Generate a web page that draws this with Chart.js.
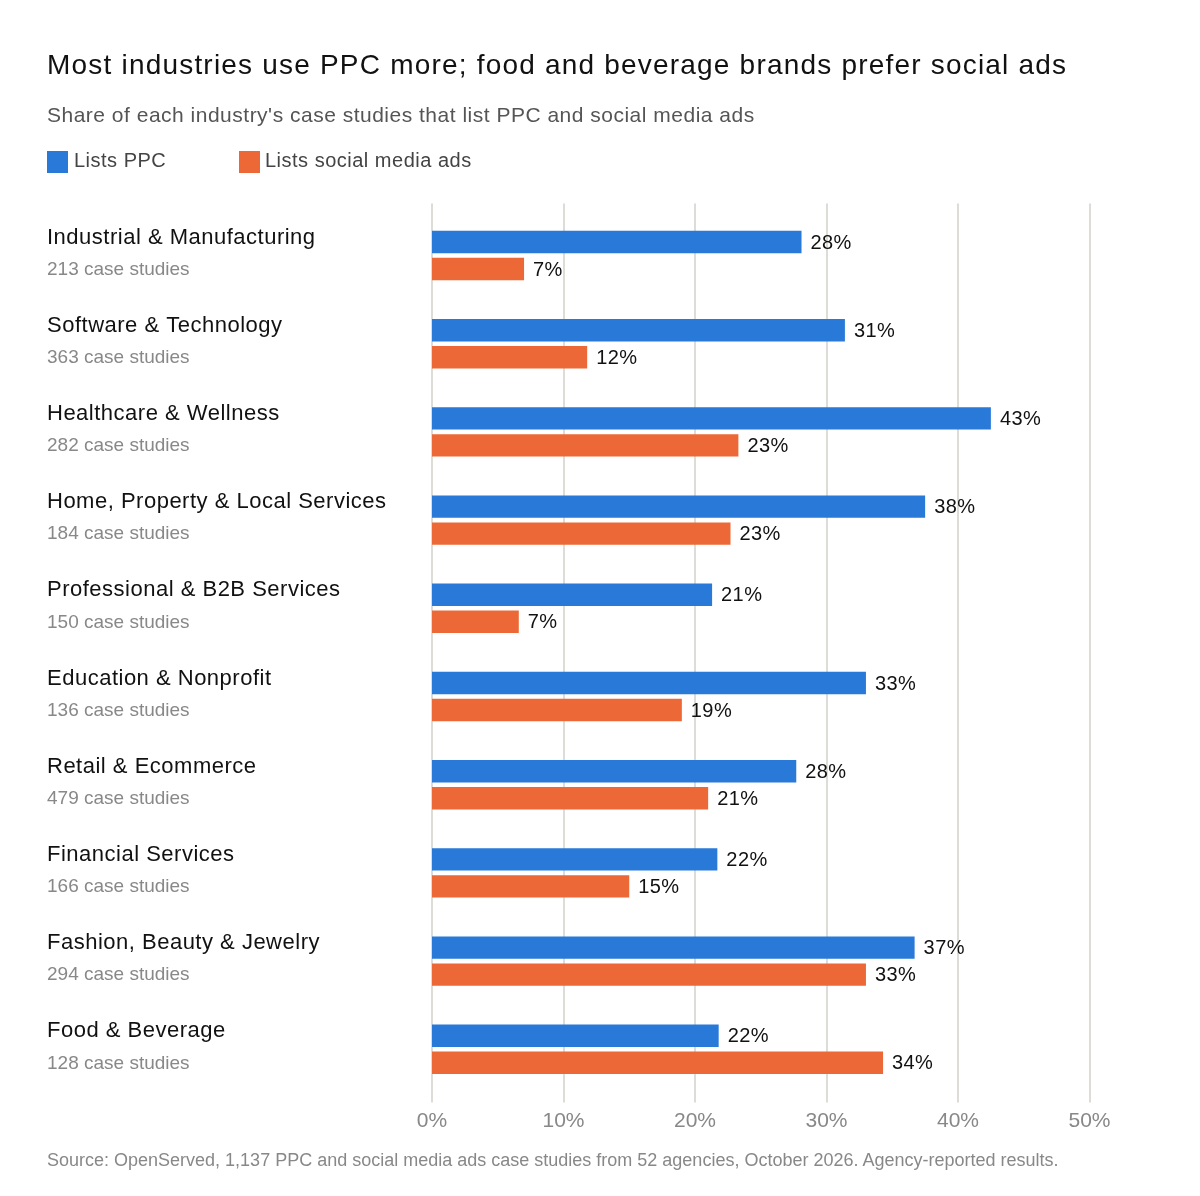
<!DOCTYPE html>
<html>
<head>
<meta charset="utf-8">
<script src="https://cdn.jsdelivr.net/npm/chart.js@4/dist/chart.umd.min.js"></script>
<style>
  html, body { margin: 0; padding: 0; background: #fff; }
  body { width: 1200px; height: 1196px; position: relative; overflow: hidden;
         font-family: "Liberation Sans", Arial, Helvetica, sans-serif; }
  .t { position: absolute; white-space: nowrap; line-height: 1; }
  #title { left: 47px; top: 51.3px; font-size: 28px; color: #111; letter-spacing: 1.2px; }
  #subtitle { left: 47px; top: 103.5px; font-size: 21px; color: #555; letter-spacing: 0.5px; }
  .sw { position: absolute; width: 21px; height: 22px; top: 151px; }
  .lg { top: 150px; font-size: 20px; color: #444; letter-spacing: 0.5px; }
  #source { left: 47px; top: 1151.2px; font-size: 18px; color: #888; }
  #wrap { position: absolute; left: 0; top: 0; width: 1200px; height: 1196px; }
</style>
</head>
<body>
<div id="wrap"><canvas id="c" width="1200" height="1196"></canvas></div>
<div class="t" id="title">Most industries use PPC more; food and beverage brands prefer social ads</div>
<div class="t" id="subtitle">Share of each industry's case studies that list PPC and social media ads</div>
<div class="sw" style="left:47px;background:#2979d8"></div>
<div class="t lg" style="left:74px">Lists PPC</div>
<div class="sw" style="left:239px;background:#ec6836"></div>
<div class="t lg" style="left:265px">Lists social media ads</div>
<div class="t" id="source">Source: OpenServed, 1,137 PPC and social media ads case studies from 52 agencies, October 2026. Agency-reported results.</div>
<script>
const industries = [
  "Industrial & Manufacturing",
  "Software & Technology",
  "Healthcare & Wellness",
  "Home, Property & Local Services",
  "Professional & B2B Services",
  "Education & Nonprofit",
  "Retail & Ecommerce",
  "Financial Services",
  "Fashion, Beauty & Jewelry",
  "Food & Beverage"
];
const caseCounts = [213, 363, 282, 184, 150, 136, 479, 166, 294, 128];
const ppcShare = [28.1, 31.4, 42.5, 37.5, 21.3, 33.0, 27.7, 21.7, 36.7, 21.8];
const socialShare = [7.0, 11.8, 23.3, 22.7, 6.6, 19.0, 21.0, 15.0, 33.0, 34.3];
const seriesNames = ["Lists PPC", "Lists social media ads"];
const xTicks = [0, 10, 20, 30, 40, 50];

const FONT = '"Liberation Sans", Arial, Helvetica, sans-serif';
const BLUE = '#2979d8', ORANGE = '#ec6836';

const gridPlugin = {
  id: 'gridExt',
  beforeDatasetsDraw(chart) {
    const ctx = chart.ctx, xs = chart.scales.x, a = chart.chartArea;
    ctx.save();
    ctx.strokeStyle = '#dddcd6';
    ctx.lineWidth = 2;
    xTicks.forEach(v => {
      const x = Math.round(xs.getPixelForValue(v));
      ctx.beginPath();
      ctx.moveTo(x, a.top - 8);
      ctx.lineTo(x, a.bottom + 9);
      ctx.stroke();
    });
    ctx.restore();
  }
};

const labelPlugin = {
  id: 'labels',
  afterDatasetsDraw(chart) {
    const ctx = chart.ctx, ys = chart.scales.y;
    ctx.save();
    ctx.textBaseline = 'middle';
    ctx.textAlign = 'left';
    industries.forEach((name, i) => {
      const y = ys.getPixelForValue(i);
      ctx.fillStyle = '#111';
      ctx.font = '22px ' + FONT;
      ctx.letterSpacing = '0.5px';
      ctx.fillText(name, 47, y - 18);
      ctx.fillStyle = '#888';
      ctx.font = '19px ' + FONT;
      ctx.letterSpacing = '0px';
      ctx.fillText(caseCounts[i] + ' case studies', 47, y + 14);
    });
    ctx.font = '20px ' + FONT;
    ctx.letterSpacing = '0.4px';
    ctx.fillStyle = '#111';
    chart.data.datasets.forEach((ds, di) => {
      const meta = chart.getDatasetMeta(di);
      meta.data.forEach((el, i) => {
        ctx.fillText(Math.round(ds.data[i]) + '%', el.x + 9, el.y + 1);
      });
    });
    ctx.restore();
  }
};

new Chart(document.getElementById('c'), {
  type: 'bar',
  data: {
    labels: industries,
    datasets: [
      { label: seriesNames[0], data: ppcShare, backgroundColor: BLUE },
      { label: seriesNames[1], data: socialShare, backgroundColor: ORANGE }
    ]
  },
  options: {
    indexAxis: 'y',
    responsive: false,
    animation: false,
    events: [],
    layout: { padding: { left: 432, right: 110.5, top: 211.4, bottom: 0 } },
    datasets: { bar: { categoryPercentage: 0.612, barPercentage: 0.83 } },
    plugins: { legend: { display: false }, title: { display: false }, tooltip: { enabled: false } },
    scales: {
      y: { display: false },
      x: {
        min: 0, max: 50,
        afterBuildTicks(s) { s.ticks = xTicks.map(v => ({ value: v })); },
        afterFit(s) { s.height = 1196 - 1093.4; },
        grid: { display: false, drawTicks: false },
        border: { display: false },
        ticks: {
          padding: 15,
          color: '#888',
          font: { family: FONT, size: 21 },
          callback: v => v + '%'
        }
      }
    }
  },
  plugins: [gridPlugin, labelPlugin]
});
</script>
</body>
</html>
